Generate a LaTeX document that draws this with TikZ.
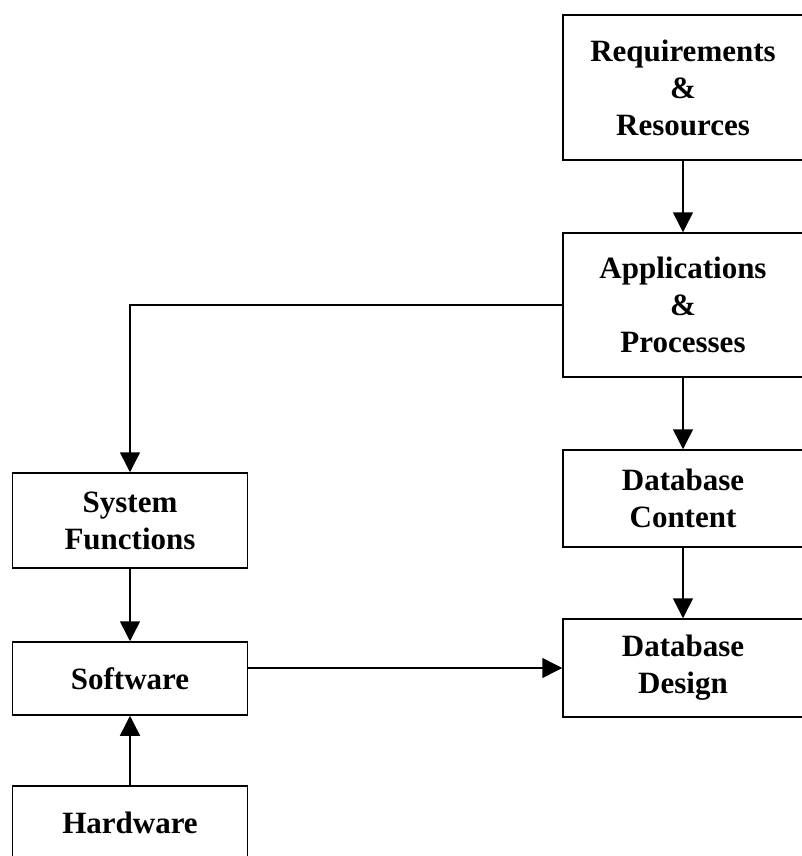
\documentclass[tikz,border=0pt]{standalone}
\usepackage{fontspec}
\setmainfont{Liberation Serif}
\usetikzlibrary{arrows.meta}
\begin{document}
\begin{tikzpicture}[x=1pt,y=-1pt,
  block/.style={draw, line width=1.5pt, inner sep=0pt, align=center,
    font=\fontsize{31}{37}\selectfont\bfseries},
  flow/.style={line width=1.5pt, -{Triangle[length=20pt,width=20pt]}}]
  \useasboundingbox (0,0) rectangle (802,856);
  % right column
  \node[block, minimum width=240pt, minimum height=145pt] (req) at (683,87.5) {Requirements\\\&\\Resources};
  \node[block, minimum width=240pt, minimum height=144pt] (app) at (683,305) {Applications\\\&\\Processes};
  \node[block, minimum width=240pt, minimum height=97pt] (dbc) at (683,498.5) {Database\\Content};
  \node[block, minimum width=240pt, minimum height=98pt] (dbd) at (683,668) {Database\\Design};
  % left column
  \node[block, minimum width=235pt, minimum height=95pt] (sf) at (130,520.5) {System\\Functions};
  \node[block, minimum width=235pt, minimum height=73pt] (sw) at (130,678.5) {Software};
  \node[block, minimum width=235pt, minimum height=74pt] (hw) at (130,823) {Hardware};
  % connectors
  \draw[flow] (req) -- (app);
  \draw[flow] (app) -- (dbc);
  \draw[flow] (dbc) -- (dbd);
  \draw[flow] (app.west) -| (sf.north);
  \draw[flow] (sf) -- (sw);
  \draw[flow] (hw) -- (sw);
  \draw[flow] (sw.east |- dbd.west) -- (dbd.west);
\end{tikzpicture}
\end{document}
